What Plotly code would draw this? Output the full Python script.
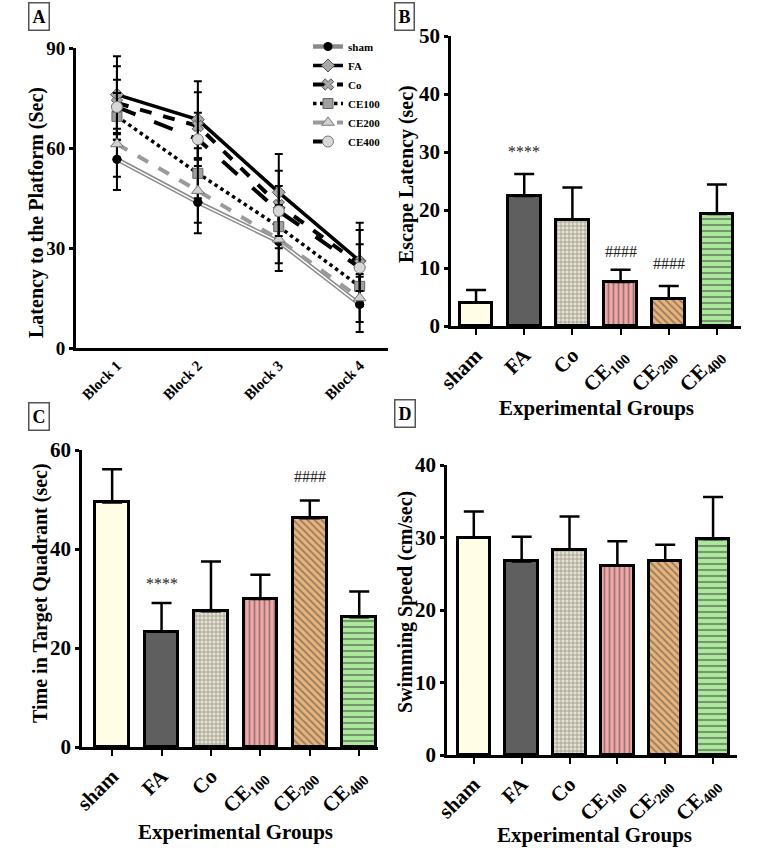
"""
Morris water maze results: latency per block (A), escape latency (B),
time in target quadrant (C) and swimming speed (D)
"""
import plotly.graph_objects as go

W, H = 768, 855

# ---- panel A data ----
blocks = ["Block 1", "Block 2", "Block 3", "Block 4"]
series_names = ["sham", "FA", "Co", "CE100", "CE200", "CE400"]
lat_sham = [56.6, 43.7, 31.9, 13.1]
lat_fa = [76.0, 68.5, 46.7, 26.1]
lat_co = [73.5, 66.6, 42.9, 25.1]
lat_ce100 = [69.5, 52.4, 36.4, 18.5]
lat_ce200 = [61.2, 47.2, 32.6, 15.0]
lat_ce400 = [72.3, 62.6, 41.1, 24.1]
err_sham = [9.2, 9.3, 8.8, 8.3]
err_fa = [11.5, 11.5, 11.5, 11.5]
err_co = [11.0, 10.1, 10.3, 10.3]
err_ce100 = [7.0, 7.5, 6.5, 6.0]
err_ce200 = [9.8, 9.6, 7.2, 7.2]
err_ce400 = [8.2, 8.0, 7.5, 7.0]

# ---- bar panels data ----
groups = ["sham", "FA", "Co", "CE<sub>100</sub>", "CE<sub>200</sub>", "CE<sub>400</sub>"]
escape = [4.0, 22.4, 18.3, 7.6, 4.7, 19.3]
escape_err = [2.2, 3.8, 5.6, 2.1, 2.2, 5.1]
target = [49.4, 23.3, 27.4, 29.9, 46.2, 26.2]
target_err = [6.7, 5.8, 10.1, 4.9, 3.6, 5.2]
speed = [30.0, 26.7, 28.3, 26.1, 26.8, 29.8]
speed_err = [3.6, 3.4, 4.6, 3.4, 2.2, 5.8]

FONT = "Liberation Serif"
bar_bg = ["#fffde6", "#5f5f5f", "#e6e2d0", "#f2a7a7", "#e9b47c", "#abe99c"]
bar_fg = ["#000000", "#000000", "#66665e", "#5a3a3a", "#5a4228", "#45553f"]
bar_shape = ["", "", "+", "|", "\\", "-"]
bar_psize = [8, 8, 4, 5, 5, 6]


def px_x(p):
    return p / W


def px_y(p):
    return 1 - p / H


fig = go.Figure()

# panel A lines
line_styles = {
    "sham": dict(color="#8a8a8a", width=4.5, dash="solid"),
    "FA": dict(color="black", width=3.5, dash="solid"),
    "Co": dict(color="black", width=4, dash="dash"),
    "CE100": dict(color="black", width=3.5, dash="dot"),
    "CE200": dict(color="#9a9a9a", width=4, dash="dash"),
    "CE400": dict(color="black", width=4, dash="longdash"),
}
markers = {
    "sham": dict(symbol="circle", size=9, color="black"),
    "FA": dict(symbol="diamond", size=10, color="#a8a8a8", line=dict(color="#555", width=1)),
    "Co": dict(symbol="x", size=10, color="#a8a8a8", line=dict(color="#555", width=1)),
    "CE100": dict(symbol="square", size=10, color="#a0a0a0", line=dict(color="#666", width=1)),
    "CE200": dict(symbol="triangle-up", size=11, color="#d0d0d0", line=dict(color="#777", width=1)),
    "CE400": dict(symbol="circle", size=11, color="#d8d8d8", line=dict(color="#777", width=1)),
}
lat_vals = [lat_sham, lat_fa, lat_co, lat_ce100, lat_ce200, lat_ce400]
lat_errs = [err_sham, err_fa, err_co, err_ce100, err_ce200, err_ce400]

for name, vals, errs in zip(series_names, lat_vals, lat_errs):
    fig.add_trace(go.Scatter(
        x=[1, 2, 3, 4], y=vals, name=name, mode="lines+markers",
        line=line_styles[name], marker=markers[name],
        error_y=dict(type="data", array=errs, color="black", thickness=2, width=4),
        xaxis="x", yaxis="y", legendgroup=name))
    if name == "sham":
        # white core to get the double-line look
        fig.add_trace(go.Scatter(
            x=[1, 2, 3, 4], y=vals, mode="lines", showlegend=False,
            line=dict(color="white", width=1.5), xaxis="x", yaxis="y",
            hoverinfo="skip", legendgroup=name))
        fig.add_trace(go.Scatter(
            x=[1, 2, 3, 4], y=vals, mode="markers", showlegend=False,
            marker=markers[name], xaxis="x", yaxis="y", hoverinfo="skip"))


def add_bars(vals, errs, xa, ya):
    fig.add_trace(go.Bar(
        x=list(range(6)), y=vals, width=0.68, showlegend=False,
        marker=dict(color=bar_bg, line=dict(color="black", width=3),
                    pattern=dict(shape=bar_shape, bgcolor=bar_bg, fgcolor=bar_fg,
                                 size=bar_psize, solidity=0.35)),
        error_y=dict(type="data", array=errs, arrayminus=[0] * 6, symmetric=False,
                     color="black", thickness=2.5, width=10),
        xaxis=xa, yaxis=ya))


add_bars(escape, escape_err, "x2", "y2")
add_bars(target, target_err, "x3", "y3")
add_bars(speed, speed_err, "x4", "y4")

tick_font = dict(family=FONT, size=21, color="black", weight="bold")
common_y = dict(showline=True, linecolor="black", linewidth=2.5, ticks="outside",
                ticklen=4, tickwidth=2.5, tickcolor="black", showgrid=False,
                zeroline=False, tickfont=tick_font, automargin=False)
common_x = dict(showline=True, linecolor="black", linewidth=2.5, ticks="outside",
                ticklen=6, tickwidth=2, tickcolor="black", showgrid=False,
                zeroline=False, tickangle=-45, tickfont=tick_font, automargin=False,
                tickvals=list(range(6)), ticktext=groups)

fig.update_layout(
    width=W, height=H, margin=dict(l=0, r=0, t=0, b=0),
    plot_bgcolor="white", paper_bgcolor="white",
    bargap=0,
    xaxis=dict(domain=[px_x(76), px_x(388)], range=[0.494, 4.35], anchor="y",
               showline=True, linecolor="black", linewidth=3, ticks="",
               showgrid=False, zeroline=False, tickangle=-45, automargin=False,
               tickvals=[1, 2, 3, 4], ticktext=blocks,
               tickfont=dict(family=FONT, size=15, color="black", weight="bold")),
    yaxis=dict(common_y, domain=[px_y(348), px_y(48)], range=[0, 90], anchor="x",
               tickvals=[0, 30, 60, 90], linewidth=3,
               tickfont=dict(family=FONT, size=19, color="black", weight="bold")),
    xaxis2=dict(common_x, domain=[px_x(451), px_x(741)], range=[-0.52, 5.5], anchor="y2"),
    yaxis2=dict(common_y, domain=[px_y(326), px_y(36)], range=[0, 50], anchor="x2",
                tickvals=[0, 10, 20, 30, 40, 50]),
    xaxis3=dict(common_x, domain=[px_x(82), px_x(378)], range=[-0.61, 5.38], anchor="y3"),
    yaxis3=dict(common_y, domain=[px_y(747), px_y(450)], range=[0, 60], anchor="x3",
                tickvals=[0, 20, 40, 60]),
    xaxis4=dict(common_x, domain=[px_x(447), px_x(737)], range=[-0.56, 5.5], anchor="y4"),
    yaxis4=dict(common_y, domain=[px_y(755), px_y(465)], range=[0, 40], anchor="x4",
                tickvals=[0, 10, 20, 30, 40]),
    legend=dict(x=px_x(308), y=px_y(32), xanchor="left", yanchor="top",
                bgcolor="rgba(0,0,0,0)", tracegroupgap=0, itemwidth=30,
                font=dict(family=FONT, size=11, color="black", weight="bold")),
)

title_font = dict(family=FONT, size=20, color="black", weight="bold")
ann = []
# axis titles
for x, y, txt in [(36, 213, "Latency to the Platform (Sec)"),
                  (407, 174, "Escape Latency (sec)"),
                  (40, 593, "Time in Target Quadrant (sec)"),
                  (405, 602, "Swimming Speed (cm/sec)")]:
    ann.append(dict(x=px_x(x), y=px_y(y), xref="paper", yref="paper", text=txt,
                    xanchor="center", yanchor="middle",
                    textangle=-90, showarrow=False, font=title_font))
for x, y in [(596, 408), (235, 832), (594, 835)]:
    ann.append(dict(x=px_x(x), y=px_y(y), xref="paper", yref="paper",
                    xanchor="center", yanchor="middle",
                    text="Experimental Groups", showarrow=False,
                    font=dict(title_font, size=21)))
# panel letters
for x, y, txt in [(39, 17, "A"), (404, 17, "B"), (39, 416, "C"), (405, 414, "D")]:
    ann.append(dict(x=px_x(x), y=px_y(y), xref="paper", yref="paper", text=txt,
                    xanchor="center", yanchor="middle",
                    showarrow=False, bordercolor="#555", borderwidth=1.5, borderpad=3,
                    font=dict(family=FONT, size=18, color="black", weight="bold")))
# significance marks
sig_font = dict(family=FONT, size=16, color="#222")
for xa, ya, x, y, txt in [("x2", "y2", 1, 30.1, "****"), ("x2", "y2", 3, 12.8, "####"),
                          ("x2", "y2", 4, 10.8, "####"), ("x3", "y3", 1, 33.1, "****"),
                          ("x3", "y3", 4, 54.6, "####")]:
    ann.append(dict(x=x, y=y, xref=xa, yref=ya, text=txt, showarrow=False, font=sig_font))

fig.update_layout(annotations=ann)

# the page body has an 8px default margin; drop it so the figure sits at 0,0
fig.write_html("out.html", config={"displayModeBar": False},
               post_script="document.body.style.margin='0';")
